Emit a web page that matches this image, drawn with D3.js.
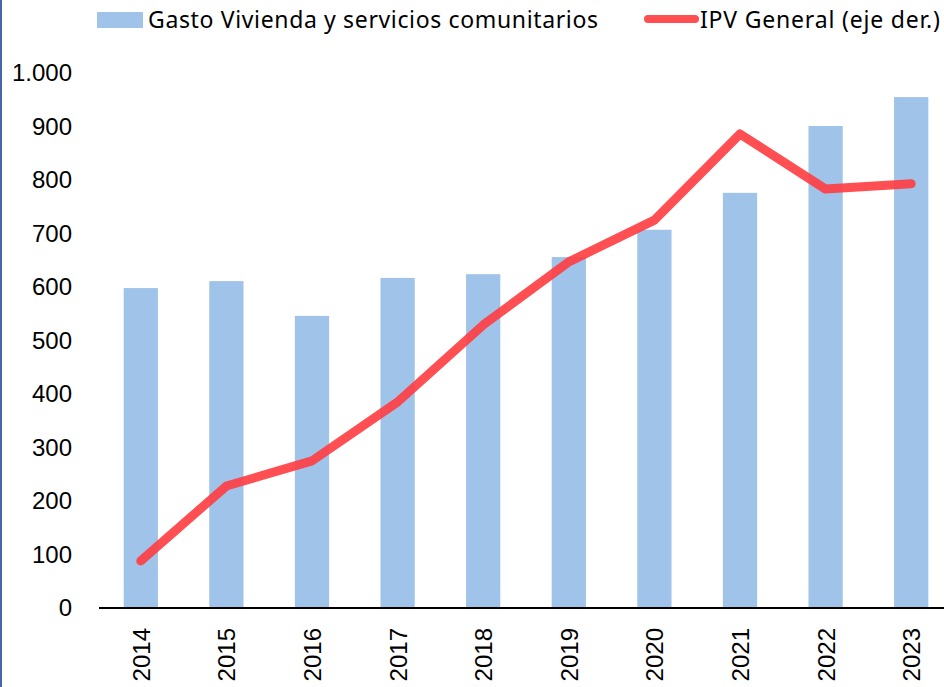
<!DOCTYPE html>
<html>
<head>
<meta charset="utf-8">
<script src="https://cdn.jsdelivr.net/npm/d3@7"></script>
<style>
  body { margin: 0; background: #fff; }
  svg { display: block; }
</style>
</head>
<body>
<div id="root"></div>
<script>
// data
var years = ["2014", "2015", "2016", "2017", "2018", "2019", "2020", "2021", "2022", "2023"];
var gasto = [598, 611, 546, 617, 624, 656, 707, 776, 901, 955];
// IPV General, on the right axis (that axis is cut off in the picture)
var ipv = [88, 228, 275, 385, 529, 647, 725, 886, 783, 793];
var leftTicks = [0, 100, 200, 300, 400, 500, 600, 700, 800, 900, 1000];

var width = 944, height = 687;

var svg = d3.select("#root").append("svg")
  .attr("width", width)
  .attr("height", height);

var x = d3.scaleBand()
  .domain(years)
  .range([98, 954])
  .paddingInner(0.6)
  .paddingOuter(0.3);

var y = d3.scaleLinear()
  .domain([0, 1000])
  .range([608, 73]);

// right axis scale (not visible)
var y2 = d3.scaleLinear()
  .domain([0, 1000])
  .range([608, 73]);

// left frame edge
svg.append("line")
  .attr("x1", 1).attr("x2", 1)
  .attr("y1", 0).attr("y2", height)
  .attr("stroke", "#4766a8")
  .attr("stroke-width", 2);

// y axis labels only
var yAxis = d3.axisLeft(y)
  .tickValues(leftTicks)
  .tickSize(0)
  .tickPadding(0)
  .tickFormat(function(d) { return d3.format(",")(d).replace(",", "."); });

var gy = svg.append("g")
  .attr("transform", "translate(72,0)")
  .call(yAxis);
gy.select(".domain").remove();
gy.selectAll("text")
  .attr("font-family", "Liberation Sans, Arial, sans-serif")
  .attr("font-size", "24px")
  .attr("fill", "#000");

// bars
svg.selectAll(".bar")
  .data(gasto)
  .enter()
  .append("rect")
  .attr("class", "bar")
  .attr("x", function(d, i) { return x(years[i]); })
  .attr("y", function(d) { return y(d); })
  .attr("width", x.bandwidth())
  .attr("height", function(d) { return y(0) - y(d); })
  .attr("fill", "#a0c4e9");

// x axis
var xAxis = d3.axisBottom(x).tickSize(0).tickPadding(0);
var gx = svg.append("g")
  .attr("transform", "translate(0," + y(0) + ")")
  .call(xAxis);
gx.select(".domain")
  .attr("d", "M99,0H944")
  .attr("stroke", "#000")
  .attr("stroke-width", 2);
gx.selectAll("text")
  .attr("font-family", "Liberation Sans, Arial, sans-serif")
  .attr("font-size", "24px")
  .attr("fill", "#000")
  .attr("text-anchor", "end")
  .attr("dy", null)
  .attr("y", 0)
  .attr("transform", "translate(9,20) rotate(-90)");

// IPV line
var line = d3.line()
  .x(function(d, i) { return x(years[i]) + x.bandwidth() / 2; })
  .y(function(d) { return y2(d); });

svg.append("path")
  .datum(ipv)
  .attr("d", line)
  .attr("fill", "none")
  .attr("stroke", "#ff3c40")
  .attr("stroke-opacity", 0.9)
  .attr("stroke-width", 9)
  .attr("stroke-linecap", "round")
  .attr("stroke-linejoin", "round");

// legend
var legend = svg.append("g")
  .attr("font-family", "Noto Sans, Open Sans, sans-serif")
  .attr("font-size", "23px")
  .attr("fill", "#000");

legend.append("rect")
  .attr("x", 97).attr("y", 12)
  .attr("width", 46).attr("height", 16)
  .attr("fill", "#a0c4e9");
legend.append("text")
  .attr("x", 148).attr("y", 28)
  .attr("textLength", 450)
  .text("Gasto Vivienda y servicios comunitarios");

legend.append("line")
  .attr("x1", 648).attr("x2", 695)
  .attr("y1", 19).attr("y2", 19)
  .attr("stroke", "#ff3c40")
  .attr("stroke-opacity", 0.9)
  .attr("stroke-width", 8)
  .attr("stroke-linecap", "round");
legend.append("text")
  .attr("x", 700).attr("y", 28)
  .attr("textLength", 240)
  .text("IPV General (eje der.)");
</script>
</body>
</html>
